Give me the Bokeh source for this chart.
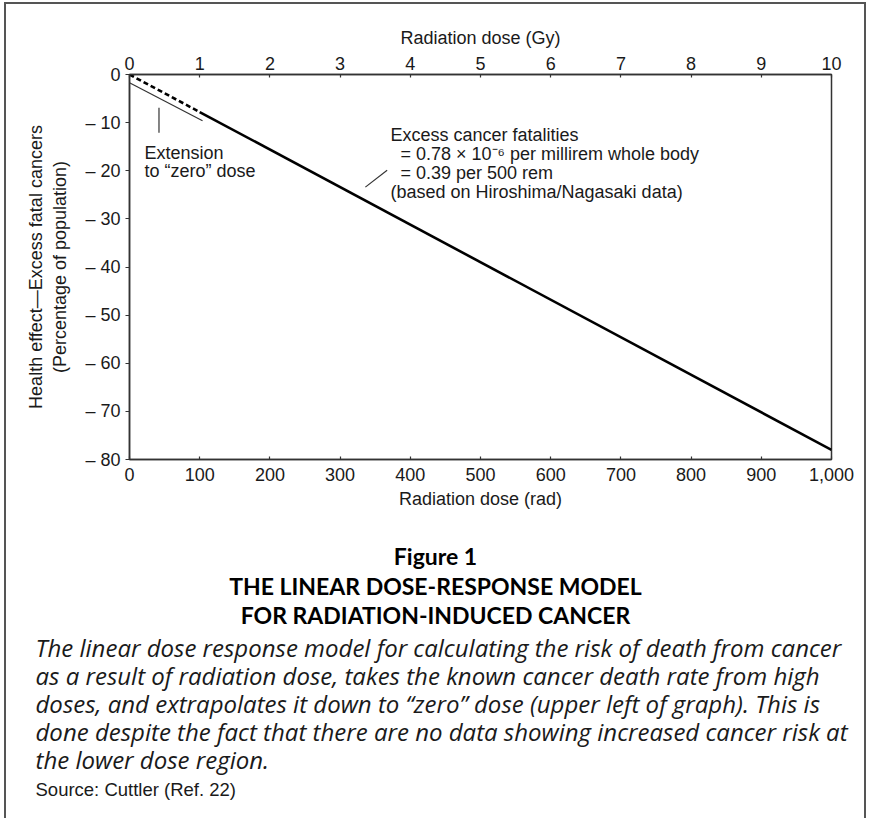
from bokeh.plotting import figure
from bokeh.layouts import column
from bokeh.models import Range1d, LinearAxis, FixedTicker, Label
from bokeh.core.properties import value
from bokeh.embed import file_html
from bokeh.resources import INLINE

# ---------------- data ----------------
dose_solid = [100, 1000]          # rad
effect_solid = [-7.8, -78.0]      # % of population
dose_dashed = [0, 100]
effect_dashed = [0.0, -7.8]
ext_dose = [0, 104]
ext_effect = [-1.7, -9.6]
ext_pointer_dose = [42, 42]
ext_pointer_effect = [-6.9, -12.1]
note_pointer_dose = [336, 367]
note_pointer_effect = [-23.4, -19.9]

rad_ticks = [0, 100, 200, 300, 400, 500, 600, 700, 800, 900, 1000]
rad_tick_labels = ["0", "100", "200", "300", "400", "500", "600", "700", "800", "900", "1,000"]
gy_ticks = [0, 1, 2, 3, 4, 5, 6, 7, 8, 9, 10]
effect_ticks = [0, -10, -20, -30, -40, -50, -60, -70, -80]
effect_tick_labels = ["0", "\u2013 10", "\u2013 20", "\u2013 30", "\u2013 40",
                      "\u2013 50", "\u2013 60", "\u2013 70", "\u2013 80"]

ext_note = ["Extension", "to \u201czero\u201d dose"]
fit_note = ["Excess cancer fatalities",
            "= 0.78 \u00d7 10\u207b\u2076 per millirem whole body",
            "= 0.39 per 500 rem",
            "(based on Hiroshima/Nagasaki data)"]
fig_title = ["Figure 1", "THE LINEAR DOSE-RESPONSE MODEL", "FOR RADIATION-INDUCED CANCER"]
caption = ["The linear dose response model for calculating the risk of death from cancer",
           "as a result of radiation dose, takes the known cancer death rate from high",
           "doses, and extrapolates it down to \u201czero\u201d dose (upper left of graph). This is",
           "done despite the fact that there are no data showing increased cancer risk at",
           "the lower dose region."]
source = "Source: Cuttler (Ref. 22)"

# ---------------- layout constants (page pixels) ----------------
FIG_X, FIG_Y = 14, 12          # top-left of figures on the page
W = 858
H1 = 518                       # chart figure height
H2 = 296                       # caption figure height
FRAME_L, FRAME_T, FRAME_R, FRAME_B = 137, 82, 839, 467

def sx(px):
    return px - FRAME_L

def sy(py):
    return FRAME_B - py

FONT = "Liberation Sans"
INK = "#1a1a1a"

p = figure(width=W, height=H1, x_range=Range1d(0, 1000), y_range=Range1d(-80, 0),
           output_backend="svg", toolbar_location=None,
           min_border_left=FRAME_L - FIG_X, min_border_right=FIG_X + W - FRAME_R,
           min_border_top=FRAME_T - FIG_Y, min_border_bottom=FIG_Y + H1 - FRAME_B)
p.frame_align = False
p.grid.visible = False
p.outline_line_color = "#333333"
p.outline_line_width = 1.5
p.background_fill_color = "white"
p.border_fill_color = "white"

p.extra_x_ranges = {"gy": Range1d(0, 10)}
top = LinearAxis(x_range_name="gy", ticker=FixedTicker(ticks=gy_ticks),
                 axis_label="Radiation dose (Gy)")
p.add_layout(top, "above")

bottom = p.below[0]
bottom.ticker = FixedTicker(ticks=rad_ticks)
bottom.major_label_overrides = dict(zip(rad_ticks, rad_tick_labels))
bottom.axis_label = "Radiation dose (rad)"
left = p.yaxis[0]
left.ticker = FixedTicker(ticks=effect_ticks)
left.major_label_overrides = dict(zip(effect_ticks, effect_tick_labels))
left.axis_label = "Health effect\u2014Excess fatal cancers\n(Percentage of population)"

for ax in [bottom, top, left]:
    ax.axis_line_color = "#333333"
    ax.axis_line_width = 1.5
    ax.major_tick_line_color = "#333333"
    ax.major_tick_line_width = 1.2
    ax.minor_tick_line_color = None
    ax.major_label_text_font = FONT
    ax.major_label_text_font_size = "18px"
    ax.major_label_text_color = INK
    ax.axis_label_text_font = FONT
    ax.axis_label_text_font_size = "18px"
    ax.axis_label_text_font_style = "normal"
    ax.axis_label_text_color = INK

for ax in [bottom, top]:
    ax.major_tick_in = 3
    ax.major_tick_out = 0
bottom.major_label_standoff = 8
bottom.axis_label_standoff = 5
top.major_label_standoff = 5
top.axis_label_standoff = 6
left.major_tick_in = 0
left.major_tick_out = 4
left.major_label_standoff = 5
left.axis_label_standoff = 12

# ---------------- curves ----------------
p.line(dose_solid, effect_solid, line_color="black", line_width=2.6)
p.line(dose_dashed, effect_dashed, line_color="black", line_width=2.6, line_dash="5 3")
p.line(ext_dose, ext_effect, line_color="#333333", line_width=1.2)
p.line(ext_pointer_dose, ext_pointer_effect, line_color="#333333", line_width=1.2)
p.line(note_pointer_dose, note_pointer_effect, line_color="#333333", line_width=1.2)

# ---------------- in-plot notes ----------------
for i, t in enumerate(ext_note):
    p.add_layout(Label(x=sx(152), y=sy(160 + 18 * i), x_units="screen", y_units="screen",
                       text=t, text_font=FONT, text_font_size="18px", text_color=INK,
                       text_baseline="middle", text_align="left"))
note_x = [398, 408, 408, 398]
for i, t in enumerate(fit_note):
    p.add_layout(Label(x=sx(note_x[i]), y=sy(142 + 19.3 * i), x_units="screen", y_units="screen",
                       text=t, text_font=FONT, text_font_size="18px", text_color=INK,
                       text_baseline="middle", text_align="left"))

# ---------------- caption figure ----------------
c = figure(width=W, height=H2, x_range=Range1d(0, W), y_range=Range1d(H2, 0),
           x_axis_type=None, y_axis_type=None, output_backend="svg", toolbar_location=None,
           min_border=0)
c.frame_align = False
c.grid.visible = False
c.outline_line_color = None
c.background_fill_color = "white"
c.border_fill_color = "white"

cy0 = FIG_Y + H1
title_y = [563, 593, 622]
c.text(x=[443 - FIG_X] * 3, y=[v - cy0 for v in title_y], text=fig_title,
       text_font=value("Lato"), text_font_style="bold", text_font_size="23px",
       text_color="black", text_align="center", text_baseline="middle")
para_y = [655, 683, 711, 739, 767]
c.text(x=[43 - FIG_X] * 5, y=[v - cy0 for v in para_y], text=caption,
       text_font=value("Open Sans"), text_font_style="italic", text_font_size="24px",
       text_color=INK, text_align="left", text_baseline="middle")
c.text(x=[43 - FIG_X], y=[797 - cy0], text=[source],
       text_font=value(FONT), text_font_size="18.5px",
       text_color=INK, text_align="left", text_baseline="middle")

layout = column(p, c, spacing=0,
                styles={"border-top": "2px solid #555555",
                        "border-left": "2px solid #555555",
                        "border-right": "2px solid #555555",
                        "margin-left": "4px", "margin-top": "2px"})

open("out.html", "w").write(file_html(layout, INLINE))
